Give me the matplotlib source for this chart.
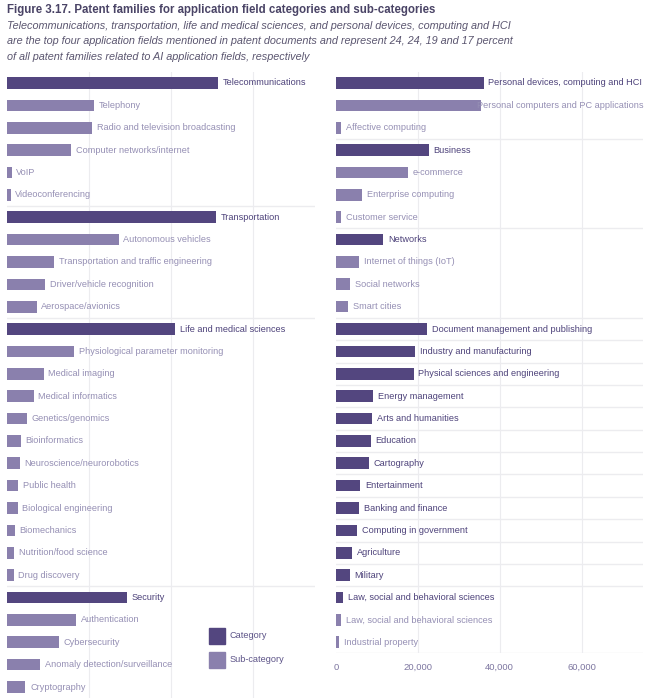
import matplotlib.pyplot as plt
from matplotlib.patches import Rectangle

plt.rcParams['font.family'] = ['Liberation Sans', 'DejaVu Sans']

# left column: categories followed by their sub-categories
left_labels = [
    "Telecommunications", "Telephony", "Radio and television broadcasting",
    "Computer networks/internet", "VoIP", "Videoconferencing",
    "Transportation", "Autonomous vehicles", "Transportation and traffic engineering",
    "Driver/vehicle recognition", "Aerospace/avionics",
    "Life and medical sciences", "Physiological parameter monitoring", "Medical imaging",
    "Medical informatics", "Genetics/genomics", "Bioinformatics",
    "Neuroscience/neurorobotics", "Public health", "Biological engineering",
    "Biomechanics", "Nutrition/food science", "Drug discovery",
    "Security", "Authentication", "Cybersecurity",
    "Anomaly detection/surveillance", "Cryptography",
]
left_values = [
    51500, 21200, 20700, 15600, 1100, 900,
    50900, 27200, 11400, 9200, 7200,
    40900, 16300, 8900, 6500, 4800, 3300, 3100, 2800, 2600, 1900, 1800, 1600,
    29200, 16800, 12600, 8000, 4500,
]
left_is_cat = [
    1, 0, 0, 0, 0, 0,
    1, 0, 0, 0, 0,
    1, 0, 0, 0, 0, 0, 0, 0, 0, 0, 0, 0,
    1, 0, 0, 0, 0,
]

# right column
right_labels = [
    "Personal devices, computing and HCI", "Personal computers and PC applications",
    "Affective computing",
    "Business", "e-commerce", "Enterprise computing", "Customer service",
    "Networks", "Internet of things (IoT)", "Social networks", "Smart cities",
    "Document management and publishing", "Industry and manufacturing",
    "Physical sciences and engineering", "Energy management", "Arts and humanities",
    "Education", "Cartography", "Entertainment", "Banking and finance",
    "Computing in government", "Agriculture", "Military",
    "Law, social and behavioral sciences", "Law, social and behavioral sciences",
    "Industrial property",
]
right_values = [
    36100, 35400, 1200,
    22700, 17600, 6300, 1200,
    11500, 5600, 3400, 2900,
    22200, 19300, 19000, 9000, 8800, 8500, 8100, 5900, 5600, 5100, 3900, 3400,
    1700, 1200, 700,
]
right_is_cat = [
    1, 0, 0,
    1, 0, 0, 0,
    1, 0, 0, 0,
    1, 1, 1, 1, 1, 1, 1, 1, 1, 1, 1, 1,
    1, 0, 0,
]

ticks = [0, 20000, 40000, 60000]
tick_labels = ["0", "20,000", "40,000", "60,000"]

CAT = "#53467f"
SUB = "#8a80ad"
CAT_TXT = "#4d427a"
SUB_TXT = "#958fb4"
GRID = "#ececef"
FS = 6.55

W, H = 649, 699
fig = plt.figure(figsize=(W / 100, H / 100), dpi=100)


def px_axes(x0, y0, x1, y1):
    return fig.add_axes([x0 / W, 1 - y1 / H, (x1 - x0) / W, (y1 - y0) / H])


def draw_panel(ax, labels, values, is_cat, bottom_row):
    n = len(labels)
    rows = list(range(n))
    colors = [CAT if c else SUB for c in is_cat]
    ax.barh(rows, values, height=0.52, color=colors, zorder=3)
    texts = []
    for i in rows:
        t = ax.annotate(labels[i], (values[i], i), xytext=(3.4, 0),
                        textcoords="offset points", va="center", ha="left",
                        fontsize=FS, color=CAT_TXT if is_cat[i] else SUB_TXT, zorder=4)
        texts.append(t)
    # separators where a group ends (next row is a category)
    for i in range(n - 1):
        if is_cat[i + 1]:
            ax.axhline(i + 0.5, color=GRID, lw=1, zorder=1)
    for t in ticks[1:]:
        ax.axvline(t, color=GRID, lw=0.8, zorder=0)
    ax.set_xlim(0, 75000)
    ax.set_ylim(bottom_row, -0.49)
    for s in ax.spines.values():
        s.set_visible(False)
    ax.set_yticks([])
    return texts


axl = px_axes(7, 72, 315, 698)
draw_panel(axl, left_labels, left_values, left_is_cat, 27.49)
axl.set_xticks([])

axr = px_axes(336, 72, 643, 653)
rtexts = draw_panel(axr, right_labels, right_values, right_is_cat, 25.48)
axr.axhline(25.48, color=GRID, lw=1, zorder=1)
axr.set_xticks(ticks)
axr.set_xticklabels(tick_labels)
axr.tick_params(axis="x", length=0, pad=7, labelsize=6.8, labelcolor="#7d76a0")

# labels that run past the panel edge get pulled back inside it
renderer = fig.canvas.get_renderer()
edge = axr.get_window_extent(renderer).x1
for t in rtexts:
    bb = t.get_window_extent(renderer)
    if bb.x1 > edge:
        t.set_position((-(bb.x1 - edge) * 72 / fig.dpi + 3.4, 0))

# legend
for k, (name, col) in enumerate([("Category", CAT), ("Sub-category", SUB)]):
    y0 = 628 + k * 24
    fig.add_artist(Rectangle((209 / W, 1 - (y0 + 16) / H), 16 / W, 16 / H,
                             transform=fig.transFigure, color=col))
    fig.text(230 / W, 1 - (y0 + 8) / H, name, fontsize=FS, color="#5d5488",
             va="center", ha="left")

fig.text(7 / W, 1 - 10 / H,
         "Figure 3.17. Patent families for application field categories and sub-categories",
         fontsize=8.3, fontweight="bold", color="#4a4466", va="center", ha="left")
subtitle = [
    "Telecommunications, transportation, life and medical sciences, and personal devices, computing and HCI",
    "are the top four application fields mentioned in patent documents and represent 24, 24, 19 and 17 percent",
    "of all patent families related to AI application fields, respectively",
]
for k, line in enumerate(subtitle):
    fig.text(7 / W, 1 - (26 + 15.5 * k) / H, line, fontsize=7.85, style="italic",
             color="#5b5670", va="center", ha="left")

fig.savefig("out.png", dpi=100)
